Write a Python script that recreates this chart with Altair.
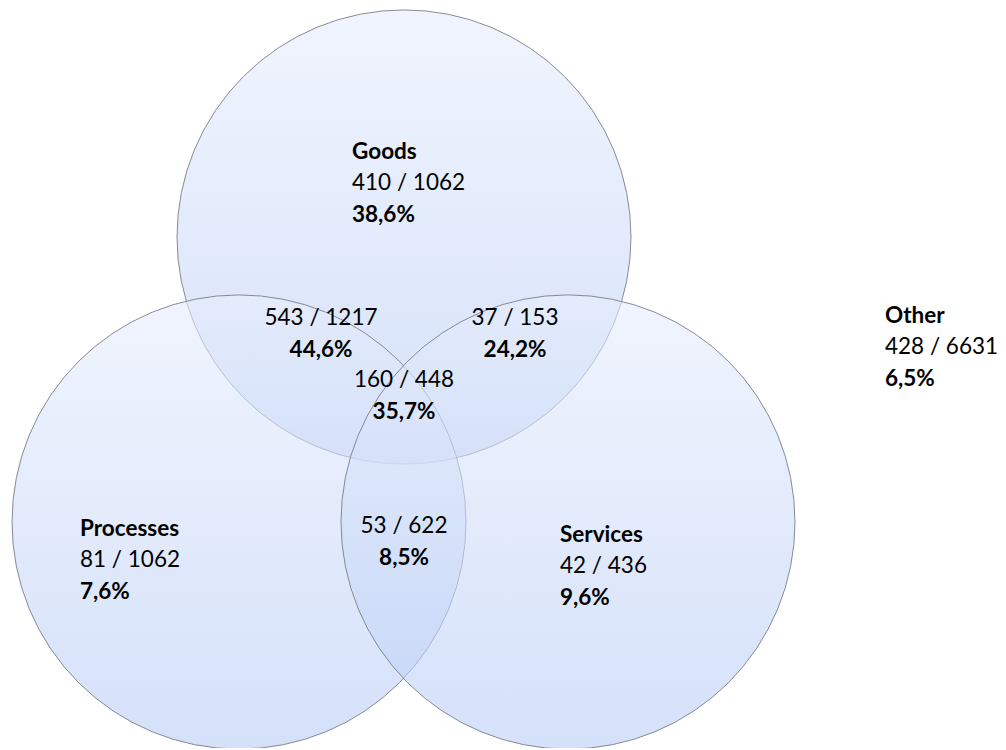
import altair as alt
import pandas as pd

# ---- data ----
sets = ["Goods", "Processes", "Services"]
region_names = ["Goods", "Goods & Processes", "Goods & Services", "All three",
                "Processes & Services", "Processes", "Services", "Other"]
hits = [410, 543, 37, 160, 53, 81, 42, 428]
totals = [1062, 1217, 153, 448, 622, 1062, 436, 6631]
percents = ["38,6%", "44,6%", "24,2%", "35,7%", "8,5%", "7,6%", "9,6%", "6,5%"]
titled = [True, False, False, False, False, True, True, True]

# ---- layout (pixel space of the drawing) ----
circle_cx = [396, 231, 560]
circle_cy = [229, 514, 514]
RADIUS = 227
label_x = [344, 313, 507, 396, 396, 72, 552, 877]
label_y = [175, 310, 310, 372, 518, 552, 558, 339]
label_align = ["left", "center", "center", "center", "center", "left", "left", "left"]
LINE = 31.5

W, H = 990, 740

circles = pd.DataFrame({"set": sets, "x": circle_cx, "y": circle_cy})

rows = []
for i, name in enumerate(region_names):
    lx, ly, al = label_x[i], label_y[i], label_align[i]
    if titled[i]:
        rows.append({"x": lx, "y": ly - LINE, "text": name, "bold": True, "al": al})
        rows.append({"x": lx, "y": ly, "text": f"{hits[i]} / {totals[i]}", "bold": False, "al": al})
        rows.append({"x": lx, "y": ly + LINE, "text": percents[i], "bold": True, "al": al})
    else:
        rows.append({"x": lx, "y": ly, "text": f"{hits[i]} / {totals[i]}", "bold": False, "al": al})
        rows.append({"x": lx, "y": ly + LINE, "text": percents[i], "bold": True, "al": al})
labels = pd.DataFrame(rows)

xs = alt.Scale(domain=[0, W], nice=False, zero=False)
ys = alt.Scale(domain=[0, H], nice=False, zero=False, reverse=True)
X = alt.X("x:Q", scale=xs, axis=None)
Y = alt.Y("y:Q", scale=ys, axis=None)

grad = alt.Gradient(
    gradient="linear",
    stops=[alt.GradientStop(offset=0, color="#e6edfc"),
           alt.GradientStop(offset=1, color="#b9cdf6")],
    x1=0, x2=0, y1=0, y2=1,
)

circle_layer = alt.Chart(circles).mark_point(
    shape="circle", filled=True, fill=grad, fillOpacity=0.6,
    stroke="#7a7f8a", strokeWidth=1, strokeOpacity=0.9,
).encode(x=X, y=Y, size=alt.value(4 * RADIUS * RADIUS))

def text_layer(bold, align):
    d = labels[(labels["bold"] == bold) & (labels["al"] == align)]
    return alt.Chart(d).mark_text(
        font="Lato", fontSize=22.5, fontWeight="bold" if bold else "normal",
        align=align, baseline="middle", color="#000000",
    ).encode(x=X, y=Y, text="text:N")

chart = alt.layer(
    circle_layer,
    text_layer(True, "left"), text_layer(False, "left"),
    text_layer(True, "center"), text_layer(False, "center"),
).properties(
    width=W, height=H, padding=0, autosize=alt.AutoSizeParams(type="none"),
).configure_view(stroke=None)

chart.save("out.html", embed_options={"renderer": "svg", "actions": False})
